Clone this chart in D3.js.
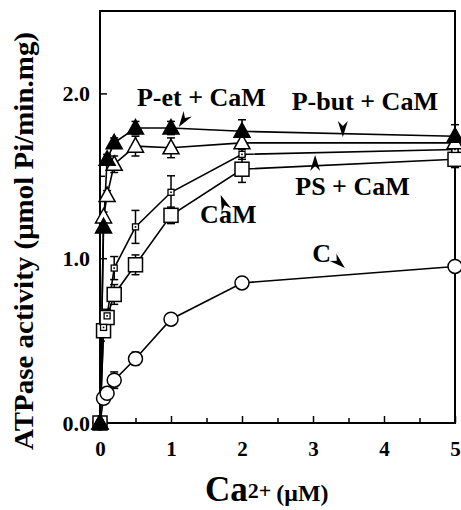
<!DOCTYPE html>
<html>
<head>
<meta charset="utf-8">
<script src="https://cdn.jsdelivr.net/npm/d3@7"></script>
<style>
  body { margin: 0; background: #fff; }
  svg text { font-family: "Liberation Serif", "Times New Roman", serif; font-weight: bold; fill: #000; }
</style>
</head>
<body>
<div class="chart"></div>
<script>
// Ca2+ concentrations (uM)
var calcium = [0, 0.05, 0.1, 0.2, 0.5, 1, 2, 5]

// ATPase activity for each condition, with error bars
var petCaM = [0, 1.19, 1.60, 1.70, 1.79, 1.79, 1.77, 1.74]
var petCaMErr = [0, 0.03, 0.03, 0.03, 0.04, 0.04, 0.07, 0.07]
var butCaM = [0, 1.25, 1.38, 1.57, 1.68, 1.67, 1.70, 1.70]
var butCaMErr = [0, 0.03, 0.03, 0.05, 0.06, 0.06, 0.04, 0.04]
var camOnly = [0, 0.58, 0.65, 0.94, 1.19, 1.40, 1.63, 1.66]
var camOnlyErr = [0, 0.04, 0.04, 0.07, 0.10, 0.10, 0.03, 0.04]
var psCaM = [0, 0.56, 0.64, 0.78, 0.96, 1.26, 1.54, 1.60]
var psCaMErr = [0, 0.03, 0.04, 0.06, 0.06, 0.05, 0.08, 0.05]
var control = [0, 0.15, 0.18, 0.26, 0.39, 0.63, 0.85, 0.95]
var controlErr = [0, 0.02, 0.02, 0.05, 0.04, 0.02, 0.02, 0.02]

var xTicks = [0, 1, 2, 3, 4, 5]
var xMinor = [0.5, 1.5, 2.5, 3.5, 4.5]
var yTicks = [0, 1, 2]
var yMinor = [0.5, 1.5]

// label text, position (data units), arrow tip (data units), arrow angle
var labels = [
    { text: "P-et + CaM", x: 0.52, y: 1.925, ax: 1.11, ay: 1.796, angle: 124 },
    { text: "P-but + CaM", x: 2.70, y: 1.90, ax: 3.42, ay: 1.735, angle: 90 },
    { text: "PS + CaM", x: 2.75, y: 1.383, ax: 3.03, ay: 1.626, angle: -90 },
    { text: "CaM", x: 1.41, y: 1.214, ax: 1.70, ay: 1.383, angle: -111 },
    { text: "C", x: 2.99, y: 0.977, ax: 3.45, ay: 0.94, angle: 42 }
]

var series = [
    { values: control, err: controlErr, marker: "circle" },
    { values: psCaM, err: psCaMErr, marker: "bigSquare" },
    { values: camOnly, err: camOnlyErr, marker: "smallSquare" },
    { values: butCaM, err: butCaMErr, marker: "openTri" },
    { values: petCaM, err: petCaMErr, marker: "filledTri" }
]

var margin = { top: 11, right: 455, bottom: 423, left: 100 },
    W = 461, H = 510

var svg = d3.select(".chart")
    .append("svg")
    .attr("width", W)
    .attr("height", H)

var x = d3.scaleLinear().domain([0, 5]).range([margin.left, margin.right])
var y = d3.scaleLinear().domain([0, 2.5]).range([margin.bottom, margin.top])

// ticks (inward)
var gx = svg.append("g")
    .attr("transform", "translate(0," + margin.bottom + ")")
    .call(d3.axisBottom(x).tickValues(xTicks).tickSize(-7).tickPadding(18).tickFormat(d3.format("d")))
gx.select(".domain").remove()
gx.selectAll("text").style("font-size", "21px").attr("font-family", null)
gx.selectAll("line").attr("stroke-width", 1.5)

var gxm = svg.append("g")
    .attr("transform", "translate(0," + margin.bottom + ")")
    .call(d3.axisBottom(x).tickValues(xMinor).tickSize(-5).tickFormat(""))
gxm.select(".domain").remove()
gxm.selectAll("line").attr("stroke-width", 1.5)

var gy = svg.append("g")
    .attr("transform", "translate(" + margin.left + ",0)")
    .call(d3.axisLeft(y).tickValues(yTicks).tickSize(-7).tickPadding(10).tickFormat(d3.format(".1f")))
gy.select(".domain").remove()
gy.selectAll("text").style("font-size", "22px").attr("font-family", null)
gy.selectAll("line").attr("stroke-width", 1.5)

var gym = svg.append("g")
    .attr("transform", "translate(" + margin.left + ",0)")
    .call(d3.axisLeft(y).tickValues(yMinor).tickSize(-5).tickFormat(""))
gym.select(".domain").remove()
gym.selectAll("line").attr("stroke-width", 1.5)

// frame
svg.append("rect")
    .attr("x", margin.left).attr("y", margin.top)
    .attr("width", margin.right - margin.left).attr("height", margin.bottom - margin.top)
    .attr("fill", "none").attr("stroke", "#000").attr("stroke-width", 2)

var line = d3.line()
    .x(function (d, i) { return x(calcium[i]) })
    .y(function (d) { return y(d) })

// lines
series.forEach(function (s) {
    svg.append("path")
        .datum(s.values)
        .attr("d", line)
        .attr("fill", "none")
        .attr("stroke", "#000")
        .attr("stroke-width", 1.6)
})

// error bars
series.forEach(function (s) {
    var g = svg.append("g").attr("stroke", "#000").attr("stroke-width", 1.5)
    s.values.forEach(function (v, i) {
        if (!s.err[i]) return
        var cx = x(calcium[i])
        var y1 = y(v + s.err[i]), y2 = y(v - s.err[i])
        g.append("line").attr("x1", cx).attr("x2", cx).attr("y1", y1).attr("y2", y2)
        g.append("line").attr("x1", cx - 4).attr("x2", cx + 4).attr("y1", y1).attr("y2", y1)
        g.append("line").attr("x1", cx - 4).attr("x2", cx + 4).attr("y1", y2).attr("y2", y2)
    })
})

// markers
function drawMarker(g, type, cx, cy) {
    if (type == "circle") {
        g.append("circle").attr("cx", cx).attr("cy", cy).attr("r", 7)
            .attr("fill", "#fff").attr("stroke", "#000").attr("stroke-width", 1.5)
    } else if (type == "bigSquare") {
        g.append("rect").attr("x", cx - 7).attr("y", cy - 7).attr("width", 14).attr("height", 14)
            .attr("fill", "#fff").attr("stroke", "#000").attr("stroke-width", 1.5)
    } else if (type == "smallSquare") {
        g.append("rect").attr("x", cx - 3).attr("y", cy - 3).attr("width", 6).attr("height", 6)
            .attr("fill", "#fff").attr("stroke", "#000").attr("stroke-width", 1.3)
        g.append("rect").attr("x", cx - 0.8).attr("y", cy - 0.8).attr("width", 1.6).attr("height", 1.6)
            .attr("fill", "#000")
    } else {
        var pts = [[cx, cy - 8.5], [cx + 8, cy + 6], [cx - 8, cy + 6]]
        g.append("polygon").attr("points", pts.map(function (p) { return p.join(",") }).join(" "))
            .attr("fill", type == "filledTri" ? "#000" : "#fff")
            .attr("stroke", "#000").attr("stroke-width", 1.5).attr("stroke-linejoin", "miter")
    }
}

series.forEach(function (s) {
    var g = svg.append("g")
    s.values.forEach(function (v, i) {
        drawMarker(g, s.marker, x(calcium[i]), y(v))
    })
})

// annotations with arrowheads
labels.forEach(function (d) {
    svg.append("text")
        .attr("x", x(d.x)).attr("y", y(d.y))
        .style("font-size", "26px")
        .text(d.text)

    var a = d.angle * Math.PI / 180
    var tx = x(d.ax), ty = y(d.ay)
    var len = 16, half = 5, notch = 11
    var bx = tx - len * Math.cos(a), by = ty - len * Math.sin(a)
    var nx = tx - notch * Math.cos(a), ny = ty - notch * Math.sin(a)
    var px = -Math.sin(a), py = Math.cos(a)
    var pts = [[tx, ty], [bx + half * px, by + half * py], [nx, ny], [bx - half * px, by - half * py]]
    svg.append("polygon")
        .attr("points", pts.map(function (p) { return p.join(",") }).join(" "))
        .attr("fill", "#000")
})

// axis titles
var xt = svg.append("text").attr("x", 205).attr("y", 501)
xt.append("tspan").style("font-size", "35px").text("Ca")
xt.append("tspan").attr("dy", -3).style("font-size", "22px").text("2+")
xt.append("tspan").attr("dx", 5).attr("dy", 3).style("font-size", "24px").text("(μM)")

svg.append("text")
    .attr("transform", "translate(33,241) rotate(-90)")
    .attr("text-anchor", "middle")
    .style("font-size", "27px")
    .attr("textLength", 418)
    .attr("lengthAdjust", "spacingAndGlyphs")
    .text("ATPase activity (μmol Pi/min.mg)")
</script>
</body>
</html>
